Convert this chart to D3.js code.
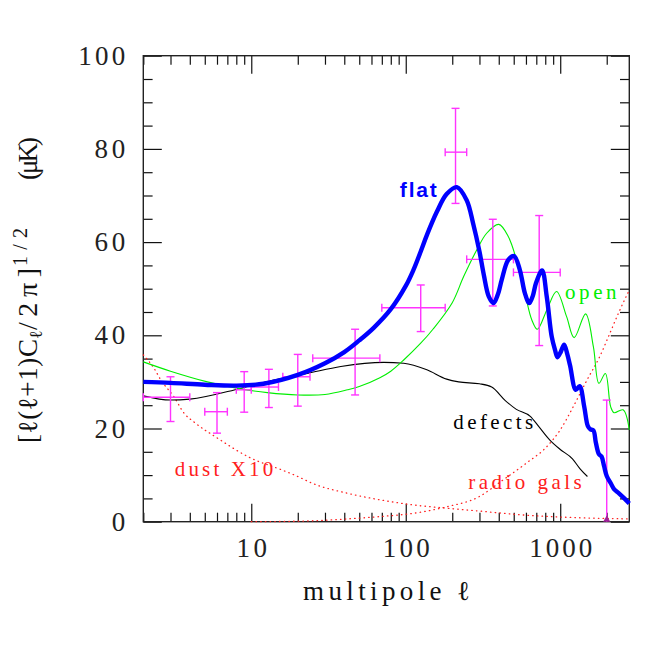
<!DOCTYPE html>
<html>
<head>
<meta charset="utf-8">
<script src="https://cdn.jsdelivr.net/npm/d3@7"></script>
<style>
  html, body { margin: 0; padding: 0; background: #fff; }
  svg { display: block; }
</style>
</head>
<body>
<svg id="chart" width="664" height="664"></svg>
<script>
// ---------------- DATA ----------------
const flatEll = [2,3,5,8,12,20,30,40,50,62,80,100,112,125,137,159,184,214,248,273,300,320,345,370,395,418,461,503,548,591,630,665,697,763,818,881,926,960,1010,1060,1110,1158,1260,1335,1430,1510,1570,1640,1700,1780,1850,1920,2000,2120,2230,2400,2600,2800];
const flatVal = [30.0,29.8,29.4,29.2,29.6,31.5,34.0,36.4,38.9,41.6,45.6,50.6,54.0,58.0,61.5,66.5,70.3,71.8,69.0,64.0,58.0,53.0,48.3,46.9,48.8,51.9,56.2,57.0,54.0,49.0,46.9,48.5,51.2,53.9,48.3,39.7,36.8,35.3,36.5,38.0,36.0,33.5,28.3,29.1,24.7,20.5,19.8,19.6,17.0,14.5,14.0,12.0,9.8,8.3,7.0,6.1,5.0,3.9];

const openEll = [2,3,5.2,8.5,12.7,20,30,42,50,68,80,97,125,150,200,237,288,334,400,461,521,591,655,711,818,947,1100,1230,1460,1640,1780,1960,2120,2230,2550,2800];
const openVal = [34.3,32.3,30.0,28.5,27.7,27.2,27.3,28.3,29.0,30.9,32.3,34.7,38.3,41.3,47.0,52.6,58.3,61.9,63.8,61.2,56.2,49.0,43.3,41.3,45.4,49.4,44.0,39.5,44.6,37.5,29.7,31.8,24.7,23.4,24.0,19.7];

const defectsEll = [2,3,4,8.5,14,23,38,72,97,137,184,220,300,360,441,520,640,727,857,1000,1200,1340,1500];
const defectsVal = [27.0,26.1,26.3,28.6,30.4,31.8,33.3,34.2,34.0,32.6,30.6,30.0,29.6,28.9,26.0,24.1,22.6,20.4,17.5,15.5,13.5,11.4,9.7];

const dustEll = [2,2.35,2.6,3.16,3.67,4.25,6,10,15.5,20,25,42,68,112,184,296,600,1200,2800];
const dustVal = [35.8,32.9,30.4,26.8,23.3,21.4,18.0,13.6,11.2,9.7,8.2,6.1,4.7,3.6,2.9,2.3,1.4,0.9,0.6];

const radioEll = [10,15.5,25,42,68,112,184,296,420,600,818,1000,1215,1490,1800,2100,2400,2800];
const radioVal = [0.0,0.05,0.2,0.6,1.1,1.8,3.2,5.3,8.8,12.5,16.1,19.7,24.7,30.4,35.4,40.5,45.0,49.7];

// band-power measurements
const ptEll   = [3,6,9,13,20,47,125,210,366,731,2000];
const ptVal   = [26.7,23.6,28.3,28.9,31.1,35.1,45.9,79.3,56.3,53.5,0];
const ptLo    = [21.5,19.0,23.5,24.5,24.8,27.2,40.8,68.3,46.3,37.8,0];
const ptHi    = [31.1,27.7,32.2,32.7,35.9,41.3,50.8,88.7,64.9,65.7,26.1];
const ptEllLo = [2,5,8,10,16,25,70,180,248,498,2000];
const ptEllHi = [4,7,10,15,24,68,180,248,498,1000,2000];

const xMajorTicks = [10,100,1000];
const xMinorTicks = [2,3,4,5,6,7,8,9,20,30,40,50,60,70,80,90,200,300,400,500,600,700,800,900,2000];
const yMajorTicks = [0,20,40,60,80,100];
const yMinorTicks = [5,10,15,25,30,35,45,50,55,65,70,75,85,90,95];

// ---------------- SCALES ----------------
const svg = d3.select("#chart");
const L = 143.3, R = 629.3, T = 55.7, B = 521.7;
const x = d3.scaleLog().domain([2,2800]).range([L,R]);
const y = d3.scaleLinear().domain([0,100]).range([B,T]);

const serif = "'Liberation Serif','Times New Roman',serif";

// ---------------- AXES ----------------
function styleAxis(g){ g.select(".domain").remove(); g.selectAll(".tick line").attr("stroke","#111").attr("stroke-width",1.2); }
const numFmt = d => String(d);

// bottom
svg.append("g").attr("transform",`translate(0,${B})`)
  .call(d3.axisBottom(x).tickValues(xMajorTicks).tickSize(-18).tickPadding(16).tickFormat(numFmt))
  .call(styleAxis)
  .call(g=>g.selectAll("text").attr("font-family",serif).attr("font-size",27).attr("fill","#222")
     .attr("textLength",d=>String(d).length*16.3-2).attr("lengthAdjust","spacing"));
svg.append("g").attr("transform",`translate(0,${B})`)
  .call(d3.axisBottom(x).tickValues(xMinorTicks).tickSize(-9).tickFormat(""))
  .call(styleAxis);
// top
svg.append("g").attr("transform",`translate(0,${T})`)
  .call(d3.axisTop(x).tickValues(xMajorTicks).tickSize(-18).tickFormat(""))
  .call(styleAxis);
svg.append("g").attr("transform",`translate(0,${T})`)
  .call(d3.axisTop(x).tickValues(xMinorTicks).tickSize(-9).tickFormat(""))
  .call(styleAxis);
// left
svg.append("g").attr("transform",`translate(${L},0)`)
  .call(d3.axisLeft(y).tickValues(yMajorTicks).tickSize(-18.5).tickPadding(18).tickFormat(numFmt))
  .call(styleAxis)
  .call(g=>g.selectAll("text").attr("font-family",serif).attr("font-size",27).attr("fill","#222")
     .attr("textLength",d=>String(d).length*16.2-1.5).attr("lengthAdjust","spacing"));
svg.append("g").attr("transform",`translate(${L},0)`)
  .call(d3.axisLeft(y).tickValues(yMinorTicks).tickSize(-9.3).tickFormat(""))
  .call(styleAxis);
// right
svg.append("g").attr("transform",`translate(${R},0)`)
  .call(d3.axisRight(y).tickValues(yMajorTicks).tickSize(-18.5).tickFormat(""))
  .call(styleAxis);
svg.append("g").attr("transform",`translate(${R},0)`)
  .call(d3.axisRight(y).tickValues(yMinorTicks).tickSize(-9.3).tickFormat(""))
  .call(styleAxis);

// frame
svg.append("rect").attr("x",L).attr("y",T).attr("width",R-L).attr("height",B-T)
  .attr("fill","none").attr("stroke","#222").attr("stroke-width",1.4);

// ---------------- CURVES ----------------
const plot = svg.append("g");
function drawCurve(ells, vals, color, width, dash, curve){
  const pts = ells.map((e,i)=>[e,vals[i]]);
  const line = d3.line().x(d=>x(d[0])).y(d=>y(d[1])).curve(curve);
  const p = plot.append("path").datum(pts).attr("d",line)
    .attr("fill","none").attr("stroke",color).attr("stroke-width",width)
    .attr("stroke-linejoin","round");
  if (dash) p.attr("stroke-dasharray",dash).attr("stroke-linecap","round");
  return p;
}
drawCurve(dustEll, dustVal, "#ff2020", 1.3, "0.5,4.2", d3.curveMonotoneX);
drawCurve(radioEll, radioVal, "#ff2020", 1.3, "0.5,4.2", d3.curveMonotoneX);
drawCurve(defectsEll, defectsVal, "#000", 1.1, null, d3.curveMonotoneX);
drawCurve(openEll, openVal, "#00ee00", 1.1, null, d3.curveCatmullRom.alpha(0.5));

// error bars
const eb = plot.append("g").attr("stroke","#ff33ff").attr("stroke-width",1.4).attr("fill","none");
const cap = 4;
ptEll.forEach((e,i)=>{
  const cx = x(e), cy = y(ptVal[i]);
  eb.append("line").attr("x1",cx).attr("x2",cx).attr("y1",y(ptLo[i])).attr("y2",y(ptHi[i]));
  eb.append("line").attr("x1",cx-cap).attr("x2",cx+cap).attr("y1",y(ptHi[i])).attr("y2",y(ptHi[i]));
  if (ptLo[i] > 0) eb.append("line").attr("x1",cx-cap).attr("x2",cx+cap).attr("y1",y(ptLo[i])).attr("y2",y(ptLo[i]));
  if (ptEllHi[i] > ptEllLo[i]) {
    const x0 = x(ptEllLo[i]), x1 = x(ptEllHi[i]);
    eb.append("line").attr("x1",x0).attr("x2",x1).attr("y1",cy).attr("y2",cy);
    eb.append("line").attr("x1",x0).attr("x2",x0).attr("y1",cy-cap).attr("y2",cy+cap);
    eb.append("line").attr("x1",x1).attr("x2",x1).attr("y1",cy-cap).attr("y2",cy+cap);
  } else {
    plot.append("path").attr("d",d3.symbol(d3.symbolTriangle,22)())
      .attr("transform",`translate(${cx},${cy-2})`).attr("fill","#a0209a");
  }
});

drawCurve(flatEll, flatVal, "#0000ff", 4.4, null, d3.curveCatmullRom.alpha(0.5));

// ---------------- LABELS ----------------
function label(txt, e, v, color, font, size, len, weight){
  svg.append("text").attr("x",x(e)).attr("y",y(v)).text(txt)
    .attr("fill",color).attr("font-family",font).attr("font-size",size)
    .attr("font-weight",weight||"normal")
    .attr("textLength",len).attr("lengthAdjust","spacing");
}
label("flat", 91.6, 69.6, "#0000ff", "'Liberation Sans',Arial,sans-serif", 21, 37, "bold");
label("open", 1072, 47.7, "#00ee00", serif, 21, 51.7);
label("defects", 203, 19.8, "#000", serif, 21, 80);
label("dust X10", 3.2, 9.9, "#ff2020", serif, 21, 98.3);
label("radio gals", 254, 7.0, "#ff2020", serif, 21, 113.4);

// x title
svg.append("text").attr("x",303).attr("y",600).text("multipole ℓ")
  .attr("font-family",serif).attr("font-size",27).attr("fill","#111")
  .attr("textLength",167).attr("lengthAdjust","spacing");

// y title (rotated)
const yt = svg.append("g").attr("transform","translate(37.3,0) rotate(-90)");
function ypiece(txt, yStart, yEnd, size, shift){
  yt.append("text").attr("x",-yStart).attr("y",shift).text(txt)
    .attr("font-family",serif).attr("font-size",size).attr("fill","#111")
    .attr("textLength",yStart-yEnd).attr("lengthAdjust","spacing");
}
ypiece("[ℓ(ℓ+1)C", 443, 339, 27, 0);
ypiece("ℓ", 339, 331, 18, 5);
ypiece("/2π]", 330, 268, 28, 0);
ypiece("1/2", 266, 228, 20, -10);
ypiece("(μK)", 180, 137, 27, 0);
</script>
</body>
</html>
